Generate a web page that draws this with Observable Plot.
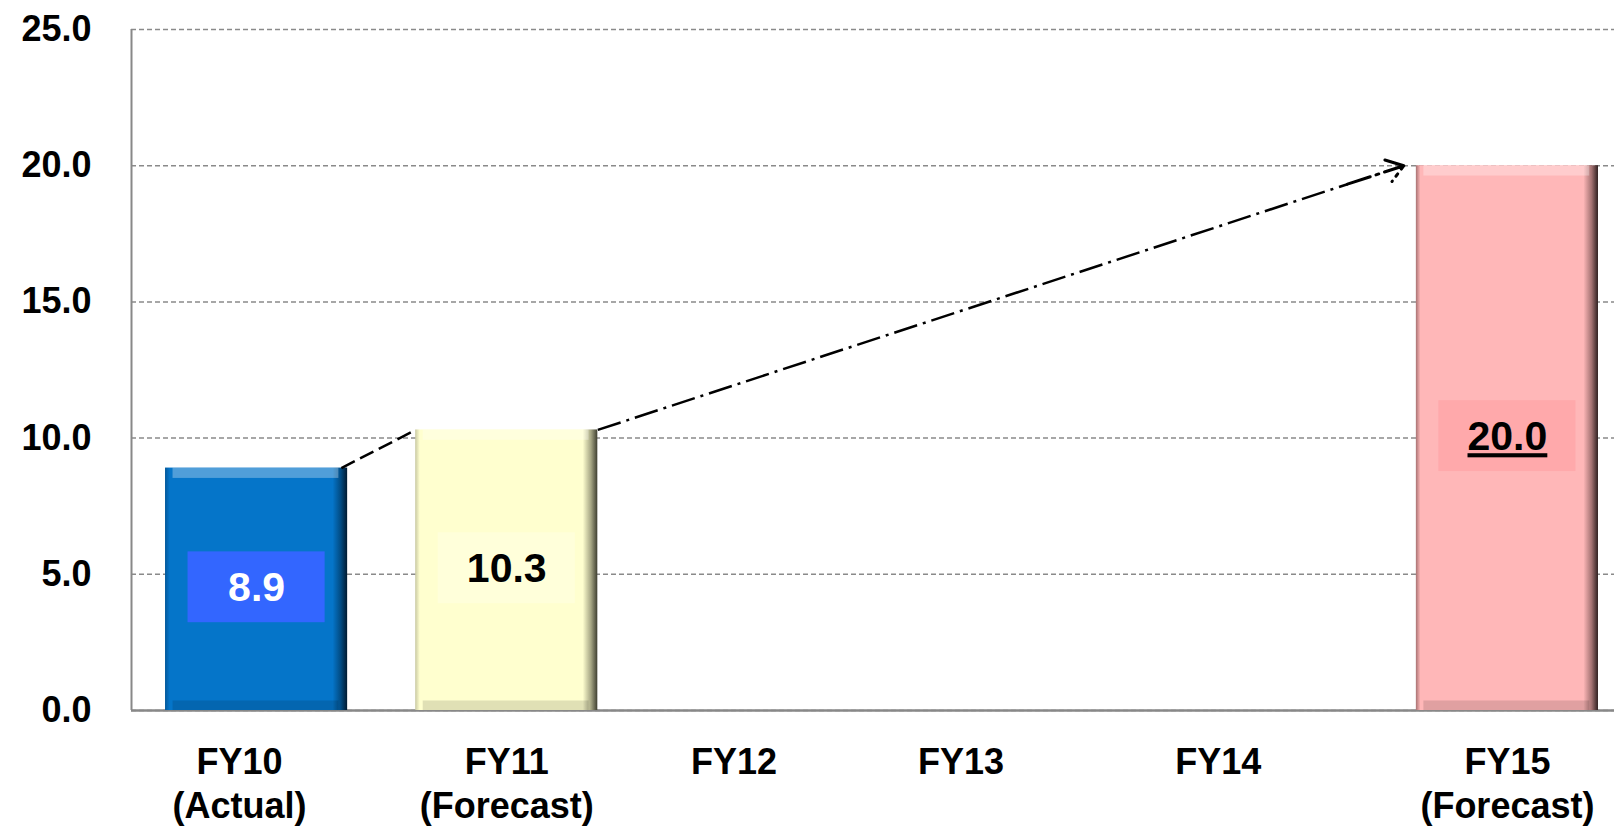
<!DOCTYPE html>
<html><head><meta charset="utf-8">
<script src="https://cdn.jsdelivr.net/npm/d3@7"></script>
<script src="https://cdn.jsdelivr.net/npm/@observablehq/plot@0.6"></script>
<style>
html,body{margin:0;padding:0;background:#fff;overflow:hidden}
[aria-label="underlined-value"], [aria-label="underlined-value"] text{text-decoration:underline}
</style></head><body>
<svg width="0" height="0" style="position:absolute"><defs>
<linearGradient id="gFY10" x1="0" x2="1" y1="0" y2="0">
<stop offset="0" stop-color="#03589a"/><stop offset="0.025" stop-color="#0575C9"/>
<stop offset="0.92" stop-color="#0575C9"/><stop offset="0.965" stop-color="#024b82"/><stop offset="1" stop-color="#011a30"/>
</linearGradient>
<linearGradient id="gFY11" x1="0" x2="1" y1="0" y2="0">
<stop offset="0" stop-color="#c9c9a2"/><stop offset="0.025" stop-color="#FFFFCF"/>
<stop offset="0.92" stop-color="#FFFFCF"/><stop offset="0.965" stop-color="#a5a583"/><stop offset="1" stop-color="#3e3e30"/>
</linearGradient>
<linearGradient id="gFY15" x1="0" x2="1" y1="0" y2="0">
<stop offset="0" stop-color="#a87272"/><stop offset="0.025" stop-color="#FFB7B8"/>
<stop offset="0.92" stop-color="#FFB7B8"/><stop offset="0.965" stop-color="#a37272"/><stop offset="1" stop-color="#302020"/>
</linearGradient>
</defs></svg>
<div id="chart"></div>
<script>
// ---- data ----
const categories = ["FY10", "FY11", "FY12", "FY13", "FY14", "FY15"];
const notes = ["(Actual)", "(Forecast)", "", "", "", "(Forecast)"];
const barCategories = ["FY10", "FY11", "FY15"];
const barValues = [8.9, 10.3, 20.0];
const yTicks = [0, 5, 10, 15, 20, 25];

// ---- styles ----
const HALF = 0.364;       // half bar width, in category units
const BOX_HALF_W = 0.274; // half label box width
const BOX_HALF_H = 1.3;   // half label box height (value units)
const barFill = {FY10: "url(#gFY10)", FY11: "url(#gFY11)", FY15: "url(#gFY15)"};
const boxFill = {FY10: "#3366FF", FY11: "#FFFFDA", FY15: "#FFA9AB"};
const textFill = {FY10: "#ffffff", FY11: "#000000", FY15: "#000000"};
const underlined = ["FY15"];
const labelNudge = {FY10: -17, FY11: 0, FY12: -23, FY13: -46, FY14: -39, FY15: 0};
const FONT = "Liberation Sans, Arial, Helvetica, sans-serif";

const bars = barCategories.map((c, k) => ({cat: c, i: categories.indexOf(c), v: barValues[k]}));
const links = [{from: bars[0], to: bars[1]}];
const arrows = [{from: bars[1], to: bars[2]}];
const endFrac = 0.93;
const ax1 = d => d.from.i + HALF, ax2 = d => d.to.i - HALF - 0.05;

const xLabelMarks = categories.map((c, k) => Plot.text([{i: k, t: notes[k] ? c + "\n" + notes[k] : c}], {
  x: "i", y: () => 0, text: "t", lineAnchor: "top", dy: 32, dx: labelNudge[c],
  fontSize: 36, fontWeight: "bold", fontFamily: FONT, fill: "#000", lineHeight: 1.22
}));

const plot = Plot.plot({
  width: 1614, height: 829,
  marginLeft: 131, marginRight: 0, marginTop: 29, marginBottom: 119,
  style: {fontFamily: FONT, background: "#fff", overflow: "hidden"},
  x: {domain: [-0.5, 5.5], range: [131, 1632], axis: null},
  y: {domain: [0, 25], label: null},
  color: {type: "identity"},
  marks: [
    Plot.gridY(yTicks, {stroke: "#8a8a8a", strokeOpacity: 1, strokeWidth: 1.5, strokeDasharray: "5,3"}),
    Plot.axisY(yTicks, {tickSize: 0, tickPadding: 40, tickFormat: d => d.toFixed(1), label: null,
      fontSize: 36, fontWeight: "bold", fontFamily: FONT, fill: "#000"}),
    Plot.ruleX([-0.5], {y1: 0, y2: 25, stroke: "#888", strokeWidth: 2}),
    Plot.ruleY([0], {stroke: "#888", strokeWidth: 2.5}),
    Plot.rect(bars, {x1: d => d.i - HALF, x2: d => d.i + HALF, y1: 0, y2: "v", fill: d => barFill[d.cat]}),
    // bevel highlights
    Plot.rect(bars, {x1: d => d.i - HALF + 0.03, x2: d => d.i + HALF - 0.035, y1: d => d.v - 0.38, y2: "v", fill: "#ffffff", fillOpacity: 0.3}),
    Plot.rect(bars, {x1: d => d.i - HALF + 0.03, x2: d => d.i + HALF - 0.035, y1: 0, y2: 0.35, fill: "#000000", fillOpacity: 0.12}),
    // value boxes and labels
    Plot.rect(bars, {x1: d => d.i - BOX_HALF_W, x2: d => d.i + BOX_HALF_W,
      y1: d => d.v / 2 - BOX_HALF_H, y2: d => d.v / 2 + BOX_HALF_H, fill: d => boxFill[d.cat], dy: -2}),
    Plot.text(bars.filter(d => !underlined.includes(d.cat)), {x: "i", y: d => d.v / 2, text: d => d.v.toFixed(1),
      fill: d => textFill[d.cat], fontSize: 41, fontWeight: "bold", fontFamily: FONT, dy: -1}),
    Plot.text(bars.filter(d => underlined.includes(d.cat)), {x: "i", y: d => d.v / 2, text: d => d.v.toFixed(1),
      fill: d => textFill[d.cat], fontSize: 41, fontWeight: "bold", fontFamily: FONT, dy: -1, ariaLabel: () => "underlined-value"}),
    // connectors
    Plot.link(links, {x1: d => d.from.i + HALF - 0.025, y1: d => d.from.v, x2: d => d.to.i - HALF, y2: d => d.to.v,
      stroke: "#000", strokeWidth: 2.5, strokeDasharray: "15,6"}),
    Plot.link(arrows, {x1: ax1, y1: d => d.from.v, x2: d => ax1(d) + endFrac * (ax2(d) - ax1(d)), y2: d => d.from.v + endFrac * (d.to.v - d.from.v),
      stroke: "#000", strokeWidth: 2.5, strokeDasharray: "24,6,3,6"}),
    Plot.arrow(arrows, {
      x1: d => ax1(d) + endFrac * (ax2(d) - ax1(d)),
      y1: d => d.from.v + endFrac * (d.to.v - d.from.v),
      x2: ax2, y2: d => d.to.v,
      stroke: "#000", strokeWidth: 3, headLength: 20, headAngle: 70, bend: 0, strokeDasharray: "24,6,3,6,100"}),
    ...xLabelMarks
  ]
});
document.getElementById("chart").appendChild(plot);
</script>
</body></html>
